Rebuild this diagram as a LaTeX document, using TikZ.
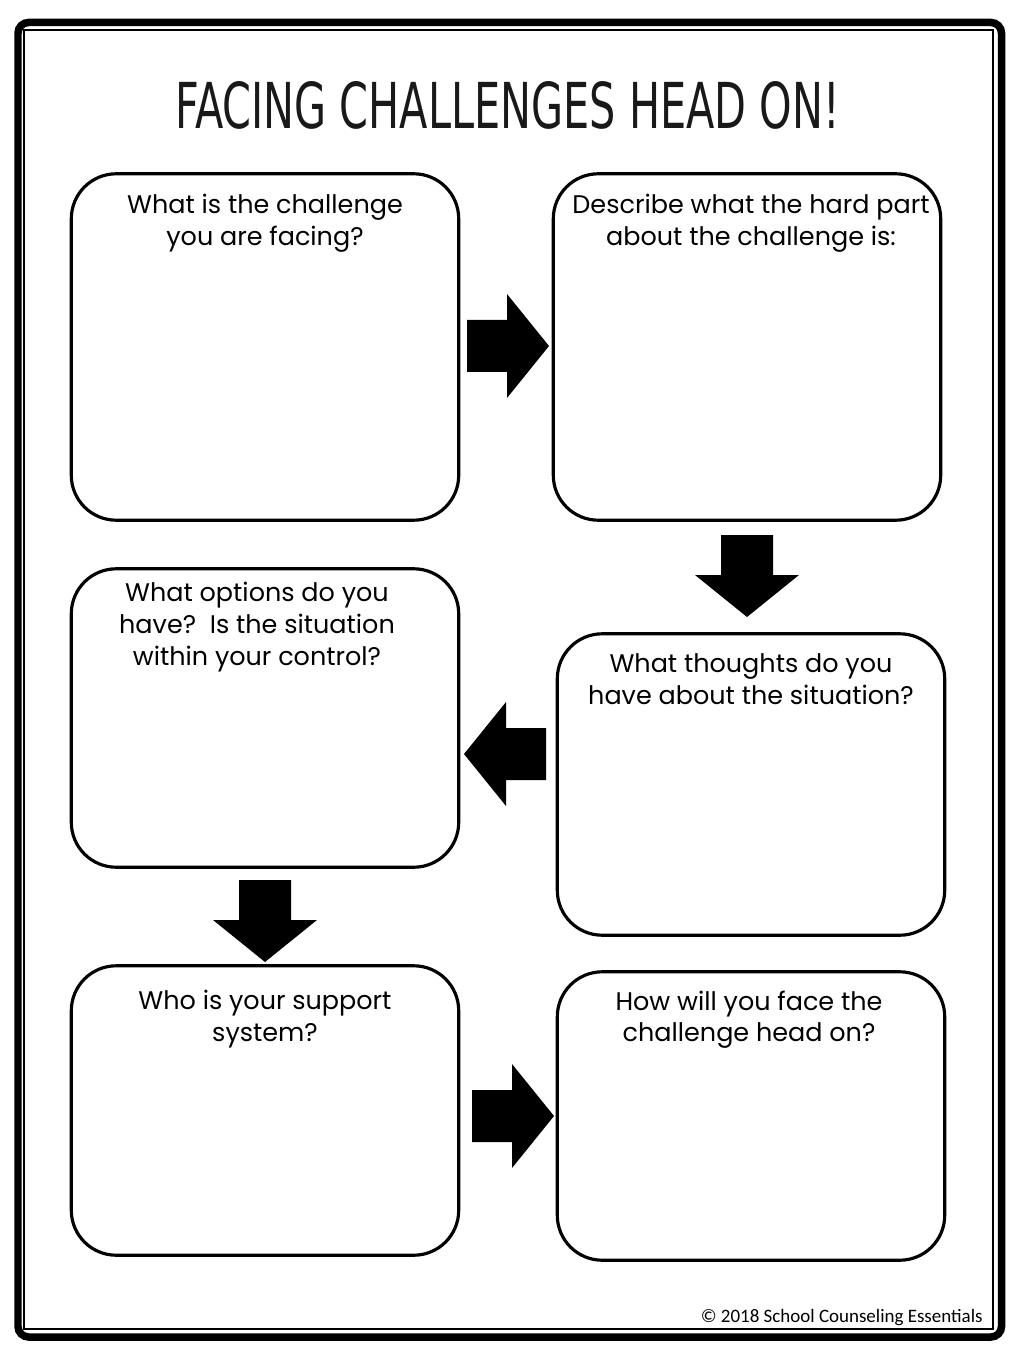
\documentclass[tikz,border=0pt]{standalone}
\usepackage{fontspec}
\usepackage{graphicx}
\setmainfont{Poppins}
\newfontfamily\titlefont{DejaVu Sans}
\newfontfamily\notefont{Carlito}
\usetikzlibrary{positioning}

\begin{document}
\begin{tikzpicture}[
  x=0.02cm, y=-0.02cm,
  qbox/.style={rectangle, rounded corners=0.9cm, draw=black, line width=1.8pt,
               minimum width=7.75cm, inner sep=0pt},
  qtext/.style={align=center, inner sep=0pt, anchor=north,
                font=\fontsize{14.5pt}{18.2pt}\selectfont},
  bigarrow/.pic={\fill[black] (0,-26) -- (40,-26) -- (40,-52) -- (82,0)
                 -- (40,52) -- (40,26) -- (0,26) -- cycle;},
]
\useasboundingbox (0,0) rectangle (1024,1364);

% Page frame
\draw[line width=0.15cm, rounded corners=6pt] (18,22.5) rectangle (1001.5,1337);
\draw[line width=0.04cm] (24,30) rectangle (992.5,1329);

% Title
\node[anchor=base, inner sep=0pt, text=black!90] (title) at (507.5,129)
  {\resizebox{13.3cm}{0.94cm}{\titlefont FACING CHALLENGES HEAD ON!}};

% Boxes
\node[qbox, minimum height=6.93cm] (q1) at (265,347)    {};
\node[qbox, minimum height=6.93cm] (q2) at (747,347)    {};
\node[qbox, minimum height=5.97cm] (q3) at (265,718)    {};
\node[qbox, minimum height=6.03cm] (q4) at (751,784.5)  {};
\node[qbox, minimum height=5.79cm] (q5) at (265,1110.5) {};
\node[qbox, minimum height=5.77cm] (q6) at (751,1116)   {};

% Questions
\node[qtext, below=0.44cm of q1.north] (t1) {What is the challenge\\you are facing?};
\node[qtext, below=0.44cm of q2.north, xshift=0.08cm] (t2)
  {Describe what the hard part\\about the challenge is:};
\node[qtext, below=0.30cm of q3.north, xshift=-0.16cm] (t3)
  {What options do you\\have?\ \ Is the situation\\within your control?};
\node[qtext, below=0.42cm of q4.north] (t4)
  {What thoughts do you\\have about the situation?};
\node[qtext, below=0.52cm of q5.north] (t5) {Who is your support\\system?};
\node[qtext, below=0.40cm of q6.north, xshift=-0.04cm] (t6)
  {How will you face the\\challenge head on?};

% Arrows between boxes
\pic (a1) at (467,346)           {bigarrow};
\pic[rotate=-90] (a2) at (747,535) {bigarrow};
\pic[rotate=180] (a3) at (546,754) {bigarrow};
\pic[rotate=-90] (a4) at (265,880) {bigarrow};
\pic (a5) at (472,1116)          {bigarrow};

% Footer
\node[anchor=base east, inner sep=0pt, font=\notefont\fontsize{10.8pt}{12pt}\selectfont]
  (copy) at (983,1322) {© 2018 School Counseling Essentials};
\end{tikzpicture}
\end{document}
